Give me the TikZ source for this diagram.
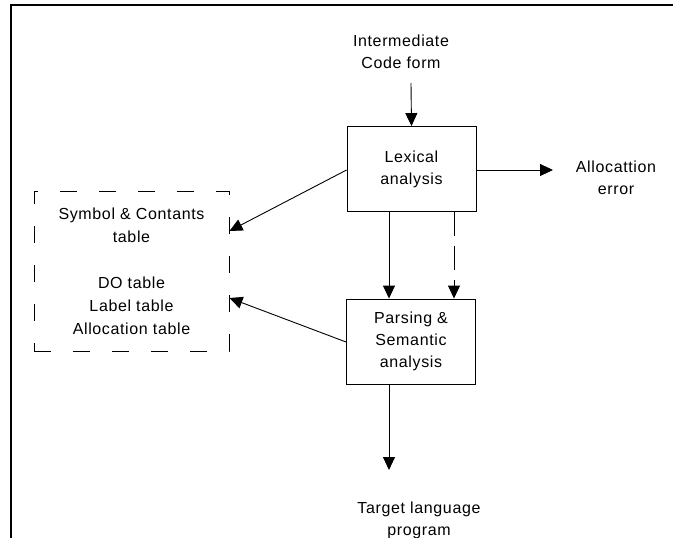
\documentclass[tikz,border=0pt]{standalone}
\usepackage{fontspec}
\setmainfont{Liberation Sans}[LetterSpace=4]
\usetikzlibrary{arrows.meta}
\begin{document}
\begin{tikzpicture}[x=1pt,y=-1pt,
  txt/.style={font=\fontsize{16}{22}\selectfont, align=center, inner sep=0pt},
  stage/.style={draw, line width=0.9pt, minimum width=129pt, minimum height=85pt,
    font=\fontsize{16}{22}\selectfont, align=center, inner sep=0pt},
  store/.style={draw, line width=0.9pt, dash pattern=on 17pt off 22pt,
    minimum width=195pt, minimum height=160pt,
    font=\fontsize{16}{23}\selectfont, align=center, inner sep=0pt},
  flow/.style={line width=0.9pt, -{Triangle[length=13pt,width=12pt]}},
  dflow/.style={flow, dash pattern=on 24pt off 10pt}]
\useasboundingbox (0,0) rectangle (673,538);
% page frame
\draw[line width=2pt] (11,538) -- (11,5) -- (673,5);

\node[txt] (src) at (401,52) {Intermediate\\Code form};
\node[stage] (lex) at (411.5,169) {Lexical\\analysis};
\node[stage] (par) at (411,341.5) {Parsing \&\\Semantic\\analysis};
\node[store] (tab) at (131.5,271) {Symbol \& Contants\\table\\[23pt]DO table\\Label table\\Allocation table};
\node[txt] (err) at (616,178) {Allocattion\\error};
\node[txt] (out) at (419,520) {Target language\\program};

\coordinate (srcend) at (411,83);
\coordinate (errend) at (553,170);
\coordinate (outend) at (389,470);

\draw[flow] (srcend) -- (lex.north);
\draw[flow] (lex.east |- errend) -- (errend);
\draw[flow] (lex.south -| outend) -- (par.north -| outend);
\draw[dflow] ([xshift=42.5pt]lex.south) -- ([xshift=43pt]par.north);
\draw[flow] (lex.west |- 0,170) -- (tab.east |- 0,231);
\draw[flow] (par.west |- 0,342) -- (tab.east |- 0,298);
\draw[flow] (par.south -| outend) -- (outend);
\end{tikzpicture}
\end{document}
